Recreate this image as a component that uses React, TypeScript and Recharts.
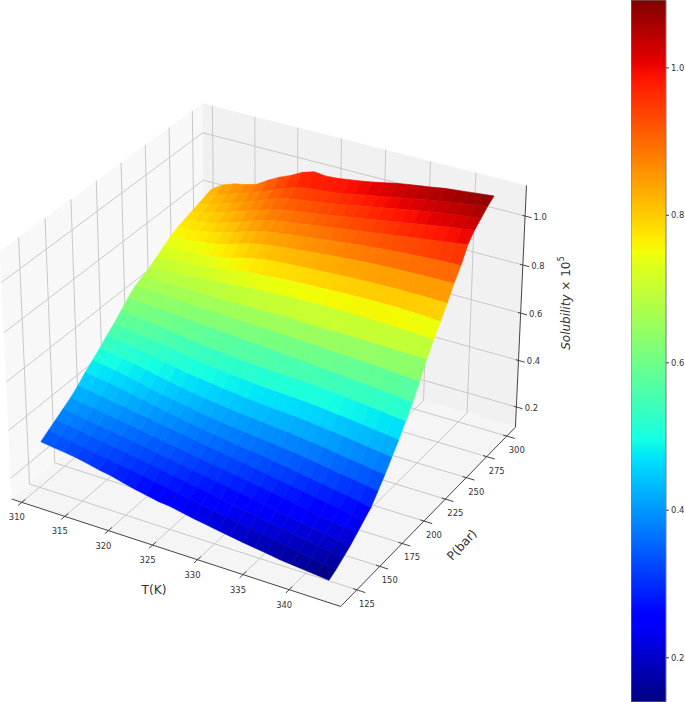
import { ScatterChart, Scatter, XAxis, YAxis, BarChart, Bar } from 'recharts';

// surface grid
const T_VALUES = [311, 312.33, 313.67, 315, 316.33, 317.67, 319, 320.33, 321.67, 323, 324.33, 325.67, 327, 328.33, 329.67, 331, 332.33, 333.67, 335, 336.33, 337.67, 339, 340.33, 341.67, 343];
const P_VALUES = [120, 127.5, 135, 142.5, 150, 157.5, 165, 172.5, 180, 187.5, 195, 202.5, 210, 217.5, 225, 232.5, 240, 247.5, 255, 262.5, 270, 277.5, 285, 292.5, 300];
const SOLUBILITY = [
  [.335, .328, .322, .315, .305, .293, .285, .272, .26, .25, .24, .235, .225, .215, .207, .198, .19, .182, .175, .168, .16, .155, .15, .145, .14],
  [.355, .347, .340, .330, .322, .314, .305, .298, .290, .280, .272, .262, .255, .245, .238, .228, .220, .212, .203, .195, .187, .178, .170, .162, .155],
  [.375, .366, .360, .350, .343, .334, .326, .319, .310, .302, .292, .285, .275, .268, .258, .250, .242, .233, .225, .216, .208, .200, .191, .184, .175],
  [.395, .387, .378, .371, .362, .355, .346, .338, .330, .322, .313, .305, .296, .288, .280, .270, .263, .254, .245, .238, .229, .220, .212, .204, .195],
  [.415, .407, .400, .391, .384, .375, .368, .358, .351, .342, .335, .326, .318, .310, .303, .294, .286, .278, .270, .261, .253, .245, .236, .228, .22],
  [.44, .431, .424, .415, .408, .399, .392, .383, .376, .367, .360, .350, .343, .335, .327, .319, .311, .302, .294, .286, .278, .269, .261, .253, .245],
  [.47, .461, .454, .445, .436, .426, .416, .406, .397, .389, .380, .372, .365, .358, .351, .345, .337, .330, .322, .313, .305, .296, .288, .279, .27],
  [.495, .487, .480, .470, .460, .448, .438, .429, .421, .412, .404, .397, .391, .385, .380, .375, .369, .363, .356, .349, .341, .333, .326, .318, .31],
  [.52, .513, .505, .496, .487, .476, .466, .457, .449, .441, .435, .428, .422, .417, .413, .408, .403, .398, .392, .386, .378, .371, .364, .357, .35],
  [.55, .543, .535, .527, .517, .507, .498, .490, .483, .476, .470, .465, .459, .454, .450, .447, .443, .439, .433, .428, .421, .415, .408, .402, .395],
  [.575, .569, .562, .555, .547, .538, .530, .522, .516, .510, .505, .500, .495, .491, .488, .486, .483, .479, .475, .469, .464, .458, .452, .446, .44],
  [.605, .599, .593, .587, .580, .572, .565, .558, .553, .548, .544, .540, .537, .534, .532, .531, .528, .526, .521, .516, .511, .506, .501, .495, .49],
  [.635, .631, .627, .623, .619, .615, .612, .608, .604, .601, .597, .594, .591, .587, .583, .579, .575, .571, .567, .563, .559, .555, .551, .546, .54],
  [.66, .657, .655, .652, .650, .647, .645, .643, .641, .639, .637, .635, .634, .632, .629, .627, .624, .622, .619, .616, .614, .611, .608, .604, .60],
  [.675, .675, .674, .674, .674, .673, .673, .673, .674, .674, .674, .675, .675, .675, .674, .674, .673, .673, .672, .671, .670, .669, .668, .667, .665],
  [.69, .692, .694, .697, .700, .704, .709, .714, .718, .722, .725, .727, .729, .731, .732, .733, .733, .733, .733, .732, .731, .729, .727, .724, .72],
  [.71, .713, .716, .720, .724, .730, .737, .745, .752, .757, .761, .764, .767, .770, .772, .774, .776, .777, .778, .779, .779, .778, .776, .773, .77],
  [.73, .731, .734, .738, .742, .750, .762, .776, .786, .794, .798, .802, .805, .808, .811, .814, .816, .818, .820, .821, .822, .822, .822, .821, .82],
  [.75, .752, .757, .763, .771, .783, .798, .812, .822, .829, .835, .840, .845, .850, .854, .858, .862, .865, .868, .870, .872, .873, .874, .875, .877],
  [.765, .768, .775, .784, .795, .810, .826, .840, .851, .858, .864, .870, .876, .882, .888, .894, .899, .904, .908, .912, .915, .918, .921, .923, .925],
  [.775, .780, .789, .800, .814, .830, .848, .863, .874, .881, .888, .895, .902, .909, .916, .923, .930, .937, .944, .951, .958, .965, .971, .978, .985],
  [.785, .796, .808, .822, .838, .854, .870, .885, .896, .904, .911, .918, .926, .934, .942, .950, .958, .966, .974, .982, .990, .998, 1.006, 1.013, 1.02],
  [.795, .809, .823, .838, .855, .872, .890, .907, .920, .928, .934, .941, .949, .958, .967, .976, .985, .994, 1.003, 1.011, 1.019, 1.026, 1.033, 1.04, 1.045],
  [.805, .825, .841, .855, .871, .889, .908, .928, .945, .954, .958, .963, .970, .979, .988, .997, 1.006, 1.015, 1.024, 1.033, 1.041, 1.049, 1.056, 1.063, 1.07],
  [.815, .845, .862, .872, .885, .915, .94, .96, .985, 1.0, .995, .998, 1.005, 1.012, 1.02, 1.03, 1.04, 1.048, 1.055, 1.062, 1.07, 1.075, 1.08, 1.085, 1.09],
];

const T_TICKS = [310, 315, 320, 325, 330, 335, 340];
const P_TICKS = [125, 150, 175, 200, 225, 250, 275, 300];
const Z_TICKS = [0.2, 0.4, 0.6, 0.8, 1.0];

const T_LIM = [308.81, 345.49];
const P_LIM = [107.6, 311];
const Z_LIM = [0.112, 1.123];
const COLOR_MIN = 0.14;
const COLOR_MAX = 1.092;

// jet colormap breakpoints
const JET_R = [[0, 0], [0.35, 0], [0.66, 1], [0.89, 1], [1, 0.5]];
const JET_G = [[0, 0], [0.125, 0], [0.375, 1], [0.64, 1], [0.91, 0], [1, 0]];
const JET_B = [[0, 0.5], [0.11, 1], [0.34, 1], [0.65, 0], [1, 0]];
const JET_OFFSETS = [0, 0.11, 0.125, 0.34, 0.35, 0.375, 0.64, 0.65, 0.66, 0.89, 0.91, 1];

const channel = (table: number[][], f: number) => {
  for (let i = 1; i < table.length; i++) {
    if (f <= table[i][0]) {
      const [a, va] = table[i - 1];
      const [b, vb] = table[i];
      return va + ((vb - va) * (f - a)) / (b - a);
    }
  }
  return table[table.length - 1][1];
};

const jet = (f: number) => {
  const c = Math.max(0, Math.min(1, f));
  const to = (t: number[][]) => Math.round(channel(t, c) * 255);
  return `rgb(${to(JET_R)},${to(JET_G)},${to(JET_B)})`;
};

// mplot3d camera, elev 30 azim -60, fitted to the box corners of the picture
const toBox = (v: number, lim: number[]) => (2 * (v - lim[0])) / (lim[1] - lim[0]) - 1;

const camera = (T: number, P: number, Z: number) => {
  const sx = toBox(T, T_LIM);
  const sy = toBox(P, P_LIM);
  const sz = toBox(Z, Z_LIM);
  const u = 0.5153 * sx + 0.2975 * sy;
  const v = -0.1488 * sx + 0.2576 * sy + 0.3862 * sz;
  const w = 0.2576 * sx - 0.4463 * sy + 0.223 * sz;
  const d = 10 - w;
  return { x: 268.2 + (3167 * u) / d, y: 342.8 - (3167 * v) / d, d };
};

type Poly = { x: number; y: number; pts: number[][]; fill: string; stroke: string; sw: number };

const poly = (corners: number[][], fill: string, stroke: string, sw: number): Poly => {
  const pts = corners.map(([t, p, z]) => {
    const c = camera(t, p, z);
    return [c.x, c.y];
  });
  return { x: pts[0][0], y: pts[0][1], pts, fill, stroke, sw };
};

const [T0, T1] = T_LIM;
const [P0, P1] = P_LIM;
const [Z0, Z1] = Z_LIM;

const panes = [
  poly([[T0, P0, Z0], [T0, P1, Z0], [T0, P1, Z1], [T0, P0, Z1]], '#f8f8f8', 'none', 0),
  poly([[T0, P1, Z0], [T1, P1, Z0], [T1, P1, Z1], [T0, P1, Z1]], '#f1f1f1', 'none', 0),
  poly([[T0, P0, Z0], [T1, P0, Z0], [T1, P1, Z0], [T0, P1, Z0]], '#f5f5f5', 'none', 0),
];

const GRID = '#c8c8c8';
const gridLines = [
  ...T_TICKS.map((t) => poly([[t, P0, Z0], [t, P1, Z0], [t, P1, Z1]], 'none', GRID, 1)),
  ...P_TICKS.map((p) => poly([[T1, p, Z0], [T0, p, Z0], [T0, p, Z1]], 'none', GRID, 1)),
  ...Z_TICKS.map((z) => poly([[T0, P0, z], [T0, P1, z], [T1, P1, z]], 'none', GRID, 1)),
];

const cells: (Poly & { depth: number })[] = [];
for (let i = 0; i < P_VALUES.length - 1; i++) {
  for (let j = 0; j < T_VALUES.length - 1; j++) {
    const corners = [
      [T_VALUES[j], P_VALUES[i], SOLUBILITY[i][j]],
      [T_VALUES[j + 1], P_VALUES[i], SOLUBILITY[i][j + 1]],
      [T_VALUES[j + 1], P_VALUES[i + 1], SOLUBILITY[i + 1][j + 1]],
      [T_VALUES[j], P_VALUES[i + 1], SOLUBILITY[i + 1][j]],
    ];
    const mean = corners.reduce((s, c) => s + c[2], 0) / 4;
    const color = jet((mean - COLOR_MIN) / (COLOR_MAX - COLOR_MIN));
    const depth = corners.reduce((s, c) => s + camera(c[0], c[1], c[2]).d, 0) / 4;
    cells.push({ ...poly(corners, color, color, 0.6), depth });
  }
}
cells.sort((a, b) => b.depth - a.depth);

const AXIS = '#444444';
const axisLines = [
  poly([[T0, P0, Z0], [T1, P0, Z0]], 'none', AXIS, 1),
  poly([[T1, P0, Z0], [T1, P1, Z0]], 'none', AXIS, 1),
  poly([[T1, P1, Z0], [T1, P1, Z1]], 'none', AXIS, 1),
  ...T_TICKS.map((t) => poly([[t, P0 - 3.5, Z0], [t, P0 + 3.5, Z0]], 'none', AXIS, 1)),
  ...P_TICKS.map((p) => poly([[T1 - 0.4, p, Z0], [T1 + 0.9, p, Z0]], 'none', AXIS, 1)),
  ...Z_TICKS.map((z) => poly([[T1 - 0.3, P1, z], [T1 + 0.7, P1, z]], 'none', AXIS, 1)),
];

type Label = { x: number; y: number; text: string };
const tickLabels: Label[] = [
  ...T_TICKS.map((t) => {
    const c = camera(t, P0, Z0);
    return { x: c.x - 5, y: c.y + 15, text: String(t) };
  }),
  ...P_TICKS.map((p) => {
    const c = camera(T1, p, Z0);
    return { x: c.x + 10, y: c.y + 14, text: String(p) };
  }),
  ...Z_TICKS.map((z) => {
    const c = camera(T1, P1, z);
    return { x: c.x + 15, y: c.y + 1, text: z.toFixed(1) };
  }),
];

const PolyShape = (props: any) => {
  const { cx, cy, payload } = props;
  const points = payload.pts.map((q: number[]) => `${cx + q[0] - payload.x},${cy + q[1] - payload.y}`).join(' ');
  if (payload.fill === 'none') {
    return <polyline points={points} fill="none" stroke={payload.stroke} strokeWidth={payload.sw} />;
  }
  return <polygon points={points} fill={payload.fill} stroke={payload.stroke} strokeWidth={payload.sw} />;
};

const LabelShape = (props: any) => {
  const { cx, cy, payload } = props;
  return (
    <text x={cx} y={cy} textAnchor="middle" dominantBaseline="central" fontSize={8.4} fill="#333333">
      {payload.text}
    </text>
  );
};

const W = 685;
const H = 702;
const FONT = '"DejaVu Sans", sans-serif';

const colorbarData = [{ name: 'solubility', range: [COLOR_MIN, COLOR_MAX] }];

export default function App() {
  return (
    <div style={{ position: 'absolute', left: 0, top: 0, width: W, height: H, fontFamily: FONT, background: '#fff' }}>
      <div style={{ position: 'absolute', left: 0, top: 0 }}>
        <ScatterChart width={W} height={H} margin={{ top: 0, right: 0, bottom: 0, left: 0 }}>
          <XAxis type="number" dataKey="x" domain={[0, W]} hide />
          <YAxis type="number" dataKey="y" domain={[0, H]} reversed hide />
          <Scatter data={panes} shape={PolyShape} isAnimationActive={false} />
          <Scatter data={gridLines} shape={PolyShape} isAnimationActive={false} />
          <Scatter data={cells} shape={PolyShape} isAnimationActive={false} />
          <Scatter data={axisLines} shape={PolyShape} isAnimationActive={false} />
          <Scatter data={tickLabels} shape={LabelShape} isAnimationActive={false} />
        </ScatterChart>
      </div>
      <svg width={W} height={H} style={{ position: 'absolute', left: 0, top: 0, pointerEvents: 'none' }}>
        <text x={154} y={590} textAnchor="middle" dominantBaseline="central" fontSize={12.2} fill="#333333">T(K)</text>
        <text x={462} y={545} textAnchor="middle" dominantBaseline="central" fontSize={12.2} fill="#333333" transform="rotate(-47 462 545)">P(bar)</text>
        <text x={566} y={303} textAnchor="middle" dominantBaseline="central" fontSize={12} fill="#333333" transform="rotate(-90 566 303)">
          <tspan fontStyle="italic">Solubility</tspan>
          <tspan> × 10</tspan>
          <tspan dy={-5} fontSize={8.4}>5</tspan>
        </text>
      </svg>
      <div style={{ position: 'absolute', left: 631, top: 0 }}>
        <BarChart width={54} height={H} data={colorbarData} margin={{ top: 0, right: 0, bottom: 0, left: 0 }} barCategoryGap={0}>
          <defs>
            <linearGradient id="jetBar" x1="0" y1="1" x2="0" y2="0">
              {JET_OFFSETS.map((o) => (
                <stop key={o} offset={o} stopColor={jet(o)} />
              ))}
            </linearGradient>
          </defs>
          <XAxis dataKey="name" hide />
          <YAxis
            orientation="right"
            type="number"
            domain={[COLOR_MIN, COLOR_MAX]}
            ticks={Z_TICKS}
            tickFormatter={(v: number) => v.toFixed(1)}
            width={19}
            axisLine={false}
            tickSize={3}
            tick={{ fontSize: 8.4, fill: '#333333' }}
            tickLine={{ stroke: '#444444' }}
            interval={0}
          />
          <Bar dataKey="range" fill="url(#jetBar)" stroke="#7a7a7a" strokeWidth={1} isAnimationActive={false} />
        </BarChart>
      </div>
    </div>
  );
}
